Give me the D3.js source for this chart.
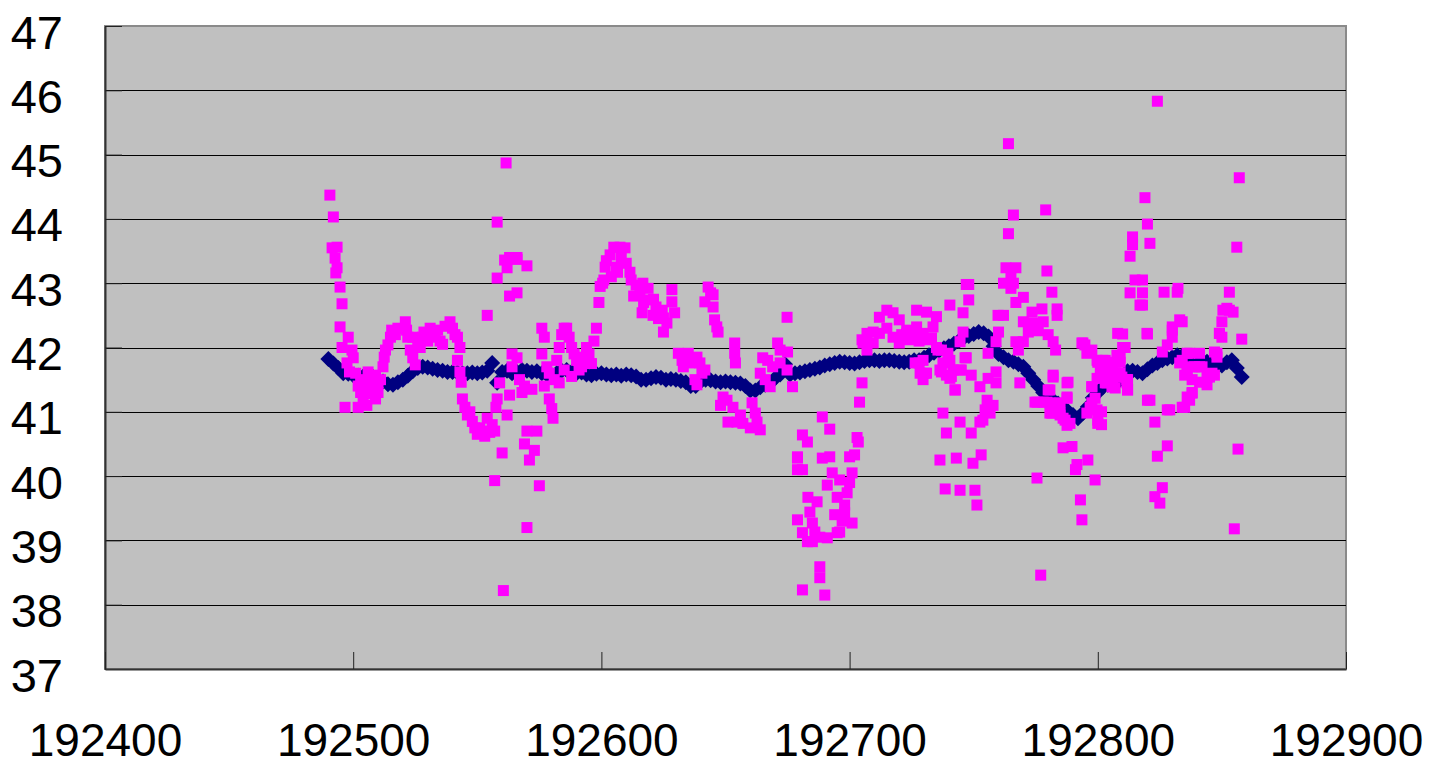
<!DOCTYPE html>
<html>
<head>
    <meta charset="utf-8">
    <script src="https://d3js.org/d3.v7.min.js"></script>
    <style>
        body, html {
            margin: 0;
            background: #ffffff;
            overflow: hidden;
        }
        svg text {
            font-family: "Liberation Sans", Arial, sans-serif;
            font-size: 47px;
            fill: #000000;
        }
        .x-axis text {
            font-size: 46px;
        }
    </style>
</head>
<body>
<div id="chart"></div>
<script>
    // axis ticks
    const xTicks = [192400, 192500, 192600, 192700, 192800, 192900];
    const yTicks = [37, 38, 39, 40, 41, 42, 43, 44, 45, 46, 47];

    // navy series: one reading every 2 records, starting at 192490
    const navyFirst = 192490, navyEvery = 2;
    const navyValues = [
        41.82, 41.75, 41.68, 41.60, 41.59, 41.57, 41.56, 41.55, 41.54, 41.54,
        41.50, 41.47, 41.43, 41.42, 41.46, 41.50, 41.56, 41.63, 41.68, 41.70,
        41.69, 41.67, 41.65, 41.64, 41.62, 41.62, 41.61, 41.60, 41.60, 41.61,
        41.60, 41.61, 41.64, 41.76, 41.45, 41.62, 41.64, 41.60, 41.62, 41.65,
        41.64, 41.62, 41.63, 41.60, 41.58, 41.57, 41.60, 41.64, 41.65, 41.62,
        41.60, 41.61, 41.58, 41.57, 41.59, 41.60, 41.58, 41.57, 41.58, 41.56,
        41.58, 41.57, 41.55, 41.50, 41.50, 41.52, 41.54, 41.53, 41.50, 41.51,
        41.50, 41.48, 41.46, 41.40, 41.40, 41.47, 41.50, 41.49, 41.47, 41.46,
        41.47, 41.46, 41.45, 41.44, 41.40, 41.33, 41.33, 41.38, 41.42, 41.45,
        41.52, 41.58, 41.74, 41.58, 41.60, 41.61, 41.63, 41.65, 41.67, 41.69,
        41.72, 41.74, 41.76, 41.78, 41.77, 41.76, 41.75, 41.77, 41.79, 41.80,
        41.80, 41.79, 41.80, 41.80, 41.79, 41.78, 41.77, 41.78, 41.80, 41.80,
        41.84, 41.88, 41.92, 41.95, 41.99, 42.02, 42.06, 42.10, 42.15, 42.18,
        42.21, 42.24, 42.22, 42.17, 42.02, 41.90, 41.85, 41.80, 41.78, 41.74,
        41.70, 41.60, 41.50, 41.40, 41.30, 41.24, 41.18, 41.13, 41.07, 41.01,
        40.95, 40.90, 40.98, 41.08, 41.22, 41.30, 41.38, 41.42, 41.44, 41.46,
        41.55, 41.63, 41.64, 41.62, 41.60, 41.66, 41.72, 41.76, 41.80, 41.83,
        41.85, 41.88, 41.87, 41.85, 41.84, 41.82, 41.80, 41.78, 41.75, 41.71,
        41.72, 41.77, 41.80, 41.68, 41.54
    ];

    // magenta series: [record, value]
    const pinkPoints = [
        [192490.6,44.37],[192492,44.03],[192491.5,43.55],[192493.5,43.56],[192492.7,43.39],[192493.5,43.24],
        [192493,43.16],[192494.7,42.94],[192495.5,42.68],[192494.7,42.32],[192498,42.16],[192495.5,42.0],
        [192499.5,41.96],[192500,41.84],[192497.5,41.76],[192498.5,41.62],[192501,41.6],[192496.7,41.07],
        [192502,41.07],[192505.5,41.1],[192503,41.45],[192507,41.45],[192510,41.45],[192503,41.3],
        [192506,41.28],[192510,41.3],[192508,41.55],[192511,41.5],[192509,41.57],[192512,41.7],
        [192512.5,41.85],[192513,41.96],[192514,42.04],[192515,42.16],[192515.5,42.27],[192517,42.2],
        [192518,42.3],[192521,42.4],[192521.5,42.27],[192522,42.16],[192524,42.16],[192523,41.96],
        [192524,41.84],[192525,41.73],[192509,41.2],[192507,41.35],[192505,41.5],[192504,41.15],
        [192506,41.62],[192502,41.4],
        [192526,42.05],[192527,42.0],[192528,42.16],[192528.5,42.24],[192531,42.3],[192532,42.16],
        [192533,42.2],[192534,42.27],[192535,42.1],[192537,42.33],[192539,42.4],[192540,42.3],
        [192541,42.2],[192542,42.16],[192543,42.0],[192542,41.8],[192543,41.62],[192543.5,41.46],
        [192544,41.2],[192545,41.07],[192546,40.95],[192548,40.85],[192549,40.75],[192550,40.65],
        [192551,40.75],[192552,40.7],[192553,40.62],[192555,40.68],[192556,40.8],[192557,40.7],
        [192554,40.9],[192547,41.0],[192558,41.2],[192557.5,41.07],[192554,42.5],[192536,42.05],
        [192530,42.1],
        [192558,43.95],[192561.6,44.87],[192558,43.08],[192561,43.36],[192566,43.4],[192562,43.24],
        [192570,43.27],[192563,42.8],[192566,42.85],[192559,41.45],[192563,41.26],[192562,40.95],
        [192560,40.36],[192564,41.9],[192566,41.84],[192564,41.7],[192567,41.5],[192569,41.4],
        [192572,41.35],[192568,41.3],[192570,40.7],[192574,40.7],[192569,40.5],[192573,40.4],
        [192571,40.25],[192557,39.93],[192560.5,38.22],[192570,39.2],[192575,39.85],[192566,43.37],
        [192563,43.4],
        [192576,42.3],[192577,42.16],[192576,41.9],[192578,41.7],[192579,41.6],[192577,41.4],
        [192579,41.2],[192580,41.05],[192580.5,40.9],[192581,41.5],[192582,41.8],[192583,42.0],
        [192584,42.2],[192585,42.3],[192586,42.3],[192587,42.16],[192588,42.0],[192589,41.9],
        [192590,41.8],[192591,41.65],[192592,41.7],[192593,41.85],[192594,42.0],[192595,41.9],
        [192596,41.75],[192597,42.1],[192598,42.3],[192599,42.7],[192599.5,42.95],[192601,43.05],
        [192585,41.65],[192588,41.55],[192583,41.45],
        [192601.5,43.25],[192600.5,43.0],[192603.5,43.44],[192605,43.56],[192607.5,43.56],[192609.5,43.55],
        [192606,43.25],[192610,43.31],[192606.5,43.17],[192611.5,43.17],[192602,43.35],[192604,43.1],
        [192608,43.4],[192612,43.05],[192614,42.97],[192616.7,43.0],[192618.8,42.92],[192615.5,42.85],
        [192619.5,42.74],[192622,42.63],[192620.8,42.5],[192624.5,42.58],[192625,42.46],[192626.4,42.38],
        [192625,42.24],[192616.4,42.54],[192613,42.8],[192617,42.7],[192621,42.75],[192623,42.45],
        [192628.4,42.9],[192628.4,42.71],[192629.5,42.54],
        [192631,41.91],[192632.5,41.8],[192635,41.91],[192635.7,41.76],[192638.5,41.85],[192639.7,41.76],
        [192640.5,41.6],[192637.7,41.5],[192638.5,41.42],[192641.7,41.65],[192633,41.7],
        [192643,42.94],[192644,42.85],[192645,42.82],[192641.7,42.71],[192645,42.63],[192645.6,42.43],
        [192646.5,42.32],[192647,42.24],[192674.8,42.47],[192653.7,42.07],[192653.7,41.91],[192654,41.76],
        [192649,41.23],[192650.6,41.18],[192653,41.07],[192651,40.84],[192654.6,40.84],[192657,40.82],
        [192660.7,41.14],[192662,40.98],[192662.7,40.84],[192664,40.72],[192660,40.75],[192648,41.1],
        [192656,40.95],
        [192665,41.84],[192664,41.6],[192666,41.5],[192668,41.39],[192671,42.07],[192672,41.96],
        [192675,41.93],[192672,41.76],[192674.8,41.65],[192677,41.39],[192669,41.7],[192667,41.8],
        [192679,40.3],[192681,40.1],
        [192689,40.92],[192692,40.73],[192681,40.64],[192683,40.53],[192703,40.6],[192703.5,40.53],
        [192679,40.28],[192679,40.1],[192689,40.28],[192692,40.3],[192700,40.3],[192702,40.33],
        [192693,40.05],[192691,39.86],[192696,39.94],[192701,40.05],[192683.2,39.67],[192686.9,39.6],
        [192684,39.44],[192695,39.67],[192699,39.74],[192698,39.55],[192694,39.4],[192698,39.43],
        [192701,39.27],[192679,39.32],[192685,39.27],[192681,39.12],[192686,39.13],[192683,38.98],
        [192685,38.98],[192691,39.04],[192695,39.12],[192696,39.13],[192688,38.59],[192688,38.42],
        [192681,38.23],[192690,38.15],[192705,41.45],[192704,41.15],[192697,39.3],[192700,39.9],
        [192688,39.05],
        [192705,42.12],[192707,41.96],[192709.5,42.07],[192712,42.22],[192715,42.3],[192717.5,42.16],
        [192720,42.07],[192723,42.22],[192727,42.32],[192729.6,42.22],[192732,42.12],[192735,42.0],
        [192733.6,42.32],[192737,41.96],[192739.6,41.91],[192728,41.76],[192731,41.6],[192729.6,41.5],
        [192736.4,41.65],[192739,41.57],[192741.7,41.65],[192744.5,41.65],[192746.5,41.84],[192742.5,41.34],
        [192740.4,41.52],[192705.4,42.07],[192707,42.22],[192709.5,42.24],[192712,42.47],[192715,42.58],
        [192717.5,42.54],[192720,42.43],[192723,42.27],[192726,42.22],[192727,42.58],[192735,42.48],
        [192731,42.55],
        [192764,45.17],[192766,44.06],[192764,43.77],[192779,44.14],[192763,43.24],[192767,43.24],
        [192765,43.1],[192762,43.0],[192765,42.92],[192766,43.0],[192779.5,43.19],[192747,42.98],
        [192748,42.98],[192748,42.74],[192740.4,42.66],[192745.7,42.54],[192767,42.7],[192770,42.78],
        [192781.5,42.86],[192783.6,42.6],[192783.6,42.5],[192773.5,42.55],[192777.5,42.6],[192759.8,42.5],
        [192762,42.5],[192770,42.4],[192774,42.38],[192778,42.4],[192721,42.2],[192724,42.12],
        [192728,42.1],[192733,42.15],[192745.7,42.24],[192760,42.24],[192759,42.09],[192767,42.09],
        [192768,41.96],[192770,42.09],[192772,42.24],[192776,42.26],[192780,42.2],[192782,42.09],
        [192783,41.96],
        [192744.5,42.09],[192747,41.84],[192755.8,41.91],[192740.4,41.8],[192737.6,41.76],[192735.6,41.96],
        [192729.6,41.8],[192726.4,41.76],[192728.4,41.6],[192730.4,41.6],[192737,41.62],[192741,41.55],
        [192745,41.65],[192749,41.57],[192752.5,41.39],[192755.8,41.52],[192759,41.62],[192759,41.45],
        [192742.5,41.34],[192737.6,40.98],[192744.5,40.84],[192749,40.67],[192739,40.67],[192736.4,40.25],
        [192743,40.28],[192749.7,40.2],[192753,40.33],[192755.4,41.18],[192757.8,41.1],[192754.6,41.03],
        [192756.6,40.98],[192753.7,40.87],[192752.5,40.84],[192768.6,41.45],[192774.7,41.15],[192779.5,41.15],
        [192780.7,40.98],[192784.8,40.95],[192786.8,40.87],[192788.8,40.82],[192782,41.54],[192787.6,41.45],
        [192787.6,41.23],[192780.7,41.34],[192786,40.44],[192789.6,40.46],[192791.6,40.18],[192796,40.25],
        [192796.9,41.07],[192799.7,41.03],[192800,40.87],[192797.6,41.39],[192799.7,41.52],[192802,41.6],
        [192805,41.5],[192806,41.39],[192809.7,41.54],[192812,41.5],[192812,41.34],[192808,42.22],
        [192810,42.0],[192809,41.84],[192807,41.77],[192802,41.8],[192799.7,41.8],[192797.6,41.96],
        [192794.8,42.04],[192793.6,42.07],[192820,41.18],[192823,40.84],[192828,40.47],[192824,40.31],
        [192829,41.03],[192834,41.07],[192838,41.3],
        [192744.5,39.78],[192750.5,39.78],[192751.3,39.55],[192777,38.46],[192775.5,39.97],[192791,40.1],
        [192793,39.63],[192793.6,39.32],[192798.9,39.94],[192738.5,39.8],
        [192824,45.83],[192857,44.64],[192819,44.33],[192820,43.92],[192814,43.72],[192814,43.6],
        [192813,43.42],[192821,43.62],[192856,43.56],[192815,43.05],[192818,43.05],[192813,42.85],
        [192818,42.85],[192817,42.66],[192818,42.66],[192826.7,42.86],[192832,42.86],[192832.3,42.92],
        [192853,42.86],[192852,42.61],[192854.5,42.55],[192850,42.4],[192849,42.22],[192850,42.16],
        [192858,42.13],[192834,42.4],[192810,42.21],[192820,42.21],[192811,42.0],[192830,42.27],
        [192830,42.16],[192828,42.04],[192826,41.93],[192836,41.91],[192841,41.91],[192847,41.93],
        [192848,41.85],[192833,41.76],[192836,41.65],[192839,41.7],[192842,41.7],[192845,41.54],
        [192841,41.46],[192844,41.42],[192847,41.57],[192835,41.57],[192803,41.8],[192806,41.65],
        [192809,41.6],[192811.7,41.5],[192807,41.37],[192812,41.34],[192801.7,41.54],[192803,41.45],
        [192836,41.23],[192835,41.07],[192828,41.03],[192821,41.18],[192801.5,41.0],[192801.5,40.8],
        [192856.5,40.42],[192826,39.82],[192823,39.68],[192825,39.58],[192855,39.18],
        [192819.8,42.22],[192807.7,41.88],[192809,41.77],[192807.7,41.54],[192811.7,41.45],[192800,41.77],
        [192804,41.7],[192801,41.65],[192803.7,41.45],[192805.7,41.39],[192795.6,41.91],[192794,42.07],
        [192797.6,41.39],[192798.9,41.21],[192797.6,41.14],[192795.6,40.98],[192800,40.82],[192788,41.46],
        [192787.6,41.21],[192784.8,41.14],[192784.8,40.98],[192786,40.9],[192787.6,40.79],[192781.5,40.98],
        [192780.7,41.14],[192780,41.34],[192782,41.57],[192775.5,41.15],[192778,41.15],[192830,42.32],
        [192833,42.43],[192850.4,42.58],[192849,42.22],[192853,42.58],[192848,41.91],[192837,41.91],
        [192838,41.7],[192841,41.7],[192844,41.54],[192846,41.6],[192836,41.6],[192838,41.29],
        [192837,41.18],[192834,41.8],[192838,41.5]
    ];

    const width = 1429, height = 767;
    const plot = {left: 105, top: 26, right: 1346, bottom: 669};

    const svg = d3.select("#chart")
                  .append("svg")
                  .attr("width", width)
                  .attr("height", height);

    const x = d3.scaleLinear()
                .domain([xTicks[0], xTicks[xTicks.length - 1]])
                .range([plot.left, plot.right]);
    const y = d3.scaleLinear()
                .domain([yTicks[0], yTicks[yTicks.length - 1]])
                .range([plot.bottom, plot.top]);

    // grey plot area
    svg.append("rect")
       .attr("x", plot.left)
       .attr("y", plot.top)
       .attr("width", plot.right - plot.left)
       .attr("height", plot.bottom - plot.top)
       .attr("fill", "#c0c0c0")
       .attr("stroke", "#8a8a8a")
       .attr("stroke-width", 2);

    // horizontal gridlines
    svg.append("g")
       .selectAll("line")
       .data(yTicks.slice(1, -1))
       .join("line")
       .attr("x1", plot.left)
       .attr("x2", plot.right)
       .attr("y1", d => Math.round(y(d)) + 0.5)
       .attr("y2", d => Math.round(y(d)) + 0.5)
       .attr("stroke", "#000")
       .attr("stroke-width", 1);

    // axes, ticks pointing into the plot
    const yAxis = svg.append("g")
       .attr("transform", `translate(${plot.left},0)`)
       .call(d3.axisLeft(y).tickValues(yTicks).tickSize(-17).tickSizeOuter(0).tickPadding(42));
    yAxis.selectAll("text").attr("dy", "0.47em");

    const xAxis = svg.append("g")
       .attr("class", "x-axis")
       .attr("transform", `translate(0,${plot.bottom})`)
       .call(d3.axisBottom(x).tickValues(xTicks).tickFormat(d3.format("d")).tickSize(-17).tickSizeOuter(0).tickPadding(54));

    [yAxis, xAxis].forEach(g => {
        g.attr("font-family", null).attr("font-size", null);
        g.select(".domain").attr("stroke", "#333").attr("stroke-width", 2);
        g.selectAll(".tick line").attr("stroke", "#222").attr("stroke-width", 1);
    });

    // navy diamonds
    const r = 8;
    const navy = navyValues.map((v, i) => ({rec: navyFirst + i * navyEvery, val: v}));
    svg.append("g")
       .selectAll("path")
       .data(navy)
       .join("path")
       .attr("d", `M0,${-r}L${r},0L0,${r}L${-r},0Z`)
       .attr("transform", d => `translate(${x(d.rec)},${y(d.val)})`)
       .attr("fill", "#000080");

    // magenta squares on top
    const s = 11;
    svg.append("g")
       .selectAll("rect")
       .data(pinkPoints)
       .join("rect")
       .attr("x", d => x(d[0]) - s / 2)
       .attr("y", d => y(d[1]) - s / 2)
       .attr("width", s)
       .attr("height", s)
       .attr("fill", "#ff00ff");
</script>
</body>
</html>
